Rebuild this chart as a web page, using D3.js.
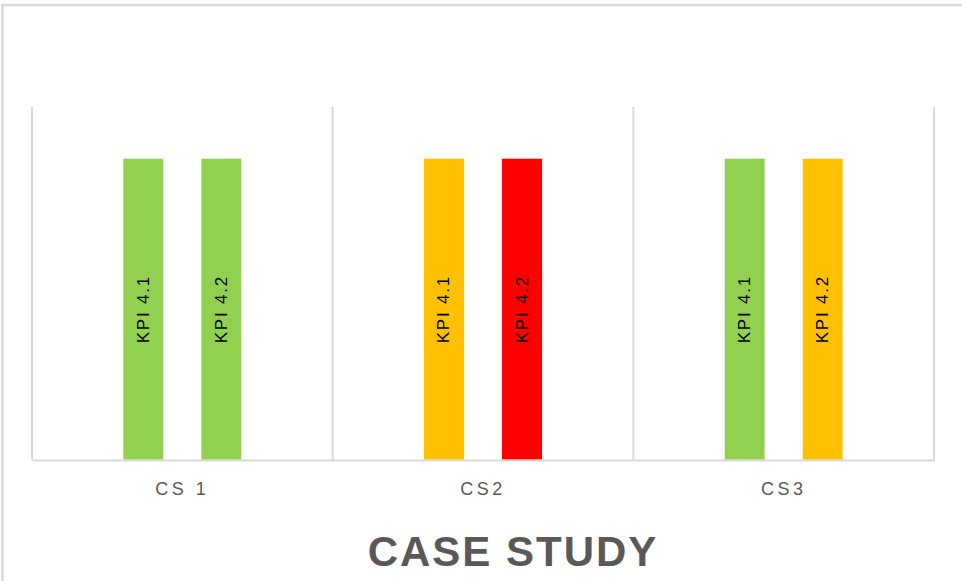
<!DOCTYPE html>
<html>
<head>
<meta charset="utf-8">
<script src="https://cdn.jsdelivr.net/npm/d3@7"></script>
<style>
  html, body { margin: 0; padding: 0; background: #fff; }
  svg { display: block; }
</style>
</head>
<body>
<svg id="chart" width="962" height="581"></svg>
<script>
// Case study KPI status chart
const categories = ["CS 1", "CS2", "CS3"];
const series = ["KPI 4.1", "KPI 4.2"];
const kpi41Values = [1, 1, 1];
const kpi42Values = [1, 1, 1];
const kpi41Status = ["green", "amber", "green"];
const kpi42Status = ["green", "red", "amber"];
const statusColors = { green: "#92D050", amber: "#FFC000", red: "#FF0000" };
const titleText = "CASE STUDY";

const svg = d3.select("#chart");
const W = 962, H = 581;
const plot = { left: 32, right: 934, top: 107, bottom: 460 };

// chart frame (only top and left edges fall inside the window)
svg.append("rect")
  .attr("x", 2.5).attr("y", 5)
  .attr("width", W + 20).attr("height", H + 20)
  .attr("fill", "none").attr("stroke", "#d9d9d9").attr("stroke-width", 2.5);

const rows = categories.map((c, i) => ({
  category: c,
  bars: [
    { key: series[0], value: kpi41Values[i], status: kpi41Status[i] },
    { key: series[1], value: kpi42Values[i], status: kpi42Status[i] }
  ]
}));

const x0 = d3.scaleBand().domain(categories).range([plot.left, plot.right]).paddingInner(0).paddingOuter(0);
const x1 = d3.scaleBand().domain(series).range([0, x0.bandwidth()]).paddingInner(0.48).paddingOuter(1.167);
const y = d3.scaleLinear().domain([0, 1.17]).range([plot.bottom, plot.top]);

// vertical category separators
const gridX = categories.map(c => x0(c)).concat([plot.right]);
svg.append("g").selectAll("line").data(gridX).join("line")
  .attr("x1", d => d).attr("x2", d => d)
  .attr("y1", plot.top).attr("y2", plot.bottom)
  .attr("stroke", "#d9d9d9").attr("stroke-width", 2);

// bars
const groups = svg.append("g").selectAll("g").data(rows).join("g")
  .attr("transform", d => `translate(${x0(d.category)},0)`);

groups.selectAll("rect").data(d => d.bars).join("rect")
  .attr("x", d => x1(d.key))
  .attr("y", d => y(d.value))
  .attr("width", x1.bandwidth())
  .attr("height", d => y(0) - y(d.value))
  .attr("fill", d => statusColors[d.status])
  .attr("stroke", "#ffffff").attr("stroke-width", 0.6);

// in-bar labels
groups.selectAll("text").data(d => d.bars).join("text")
  .attr("transform", d => `translate(${x1(d.key) + x1.bandwidth() / 2 + 5.5},${(y(d.value) + y(0)) / 2}) rotate(-90)`)
  .attr("text-anchor", "middle")
  .attr("font-family", "'Liberation Sans', Arial, sans-serif")
  .attr("font-size", 17)
  .attr("letter-spacing", 1.8)
  .attr("fill", "#000")
  .text(d => d.key);

// x axis line
const xAxis = d3.axisBottom(x0).tickSize(0).tickPadding(22);
const ax = svg.append("g").attr("transform", `translate(0,${plot.bottom})`).call(xAxis);
ax.select(".domain").attr("stroke", "#d9d9d9").attr("stroke-width", 2);
ax.selectAll("text")
  .attr("font-family", "'Liberation Sans', Arial, sans-serif")
  .attr("font-size", 18)
  .attr("letter-spacing", 3.5)
  .attr("fill", "#595959");

// axis title
svg.append("text")
  .attr("x", 513).attr("y", 566)
  .attr("text-anchor", "middle")
  .attr("font-family", "'Liberation Sans', Arial, sans-serif")
  .attr("font-weight", "bold")
  .attr("font-size", 42)
  .attr("letter-spacing", 2)
  .attr("fill", "#595959")
  .text(titleText);
</script>
</body>
</html>
